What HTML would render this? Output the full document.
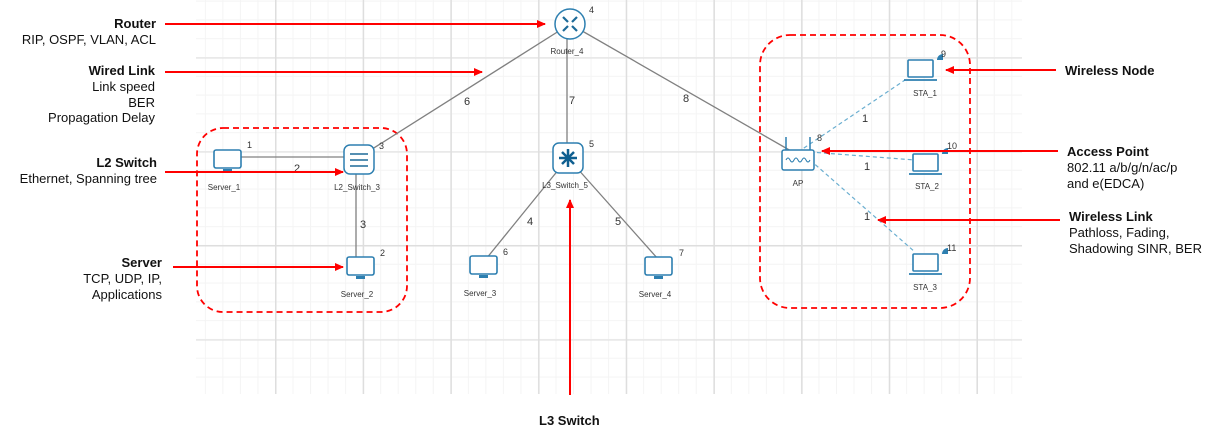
<!DOCTYPE html>
<html><head><meta charset="utf-8"><style>
html,body{margin:0;padding:0;background:#fff;}
body{width:1228px;height:436px;position:relative;overflow:hidden;font-family:"Liberation Sans",Arial,sans-serif;}
#grid{position:absolute;left:196px;top:0;width:826px;height:394px;
background-image:
linear-gradient(to right,#dedede 1.5px,transparent 1.5px),
linear-gradient(to bottom,#dedede 1.5px,transparent 1.5px),
linear-gradient(to right,#f4f4f4 1px,transparent 1px),
linear-gradient(to bottom,#f4f4f4 1px,transparent 1px);
background-size:87.7px 94px,87.7px 94px,17.54px 18.8px,17.54px 18.8px;
background-position:79px 57px,79px 57px,79px 57px,79px 57px;}
svg{position:absolute;left:0;top:0;}
</style></head><body>
<div id="grid"></div>
<svg width="1228" height="436" viewBox="0 0 1228 436" font-family="Liberation Sans, Arial, sans-serif">
<defs>
<marker id="ar" markerWidth="9" markerHeight="8" refX="8" refY="4" orient="auto" markerUnits="userSpaceOnUse"><path d="M0,0 L9,4 L0,8 z" fill="#f00"/></marker>
</defs>
<rect x="197" y="128" width="210" height="184" rx="26" fill="none" stroke="#f00" stroke-width="1.8" stroke-dasharray="6,4"/>
<rect x="760" y="35" width="210" height="273" rx="30" fill="none" stroke="#f00" stroke-width="1.8" stroke-dasharray="6,4"/>
<g stroke="#808080" stroke-width="1.3">
<line x1="570" y1="24" x2="358" y2="158"/>
<line x1="567" y1="24" x2="567" y2="158"/>
<line x1="570" y1="24" x2="798" y2="155"/>
<line x1="228" y1="157" x2="358" y2="157"/>
<line x1="356" y1="158" x2="356" y2="267"/>
<line x1="568" y1="158" x2="486" y2="259"/>
<line x1="568" y1="158" x2="658" y2="259"/>
</g>
<g stroke="#6aaed0" stroke-width="1.2" stroke-dasharray="4,3">
<line x1="798" y1="152" x2="905" y2="80"/>
<line x1="810" y1="152" x2="915" y2="160"/>
<line x1="810" y1="160" x2="915" y2="252"/>
</g>
<circle cx="570" cy="24" r="15" fill="#fff" stroke="#2d7fb0" stroke-width="1.5"/>
<g stroke="#1d6a98" stroke-width="2.2"><line x1="563" y1="17" x2="568" y2="22"/><line x1="577" y1="17" x2="572" y2="22"/><line x1="563" y1="31" x2="568" y2="26"/><line x1="577" y1="31" x2="572" y2="26"/></g>
<rect x="344" y="145" width="30" height="29" rx="6" fill="#fff" stroke="#2d7fb0" stroke-width="1.5"/>
<g stroke="#1d6a98" stroke-width="1.6"><line x1="350" y1="154" x2="368" y2="154"/><line x1="350" y1="160" x2="368" y2="160"/><line x1="350" y1="166" x2="368" y2="166"/></g>
<rect x="553" y="143" width="30" height="30" rx="6" fill="#fff" stroke="#2d7fb0" stroke-width="1.5"/>
<g stroke="#0f5f90" stroke-width="2.5"><line x1="568" y1="149" x2="568" y2="167"/><line x1="559" y1="158" x2="577" y2="158"/><line x1="562" y1="152" x2="574" y2="164"/><line x1="574" y1="152" x2="562" y2="164"/></g>
<g fill="#fff" stroke="#2d7fb0" stroke-width="1.6">
<rect x="214" y="150" width="27" height="18" rx="2"/>
<rect x="347" y="257" width="27" height="18" rx="2"/>
<rect x="470" y="256" width="27" height="18" rx="2"/>
<rect x="645" y="257" width="27" height="18" rx="2"/>
</g>
<g fill="#2d7fb0"><rect x="223" y="169" width="9" height="3"/><rect x="356" y="276" width="9" height="3"/><rect x="479" y="275" width="9" height="3"/><rect x="654" y="276" width="9" height="3"/></g>
<rect x="782" y="150" width="32" height="20" rx="2" fill="#fff" stroke="#2d7fb0" stroke-width="1.5"/>
<g stroke="#2d7fb0" stroke-width="1.5"><line x1="786" y1="137" x2="786" y2="150"/><line x1="810" y1="137" x2="810" y2="150"/></g>
<path d="M786,160 q2,-4 4,0 q2,4 4,0 q2,-4 4,0 q2,4 4,0 q2,-4 4,0 q2,4 4,0" fill="none" stroke="#2d7fb0" stroke-width="1"/>
<g fill="#fff" stroke="#2d7fb0" stroke-width="1.6">
<rect x="908" y="60" width="25" height="17" rx="1"/>
<rect x="913" y="154" width="25" height="17" rx="1"/>
<rect x="913" y="254" width="25" height="17" rx="1"/>
</g>
<g stroke="#2d7fb0" stroke-width="1.8" fill="none">
<path d="M904,80 h33"/><path d="M909,174 h33"/><path d="M909,274 h33"/>
</g>
<g fill="#2d7fb0"><path d="M937,60 a6,6 0 0 1 6,-6 v6z"/><path d="M942,154 a6,6 0 0 1 6,-6 v6z"/><path d="M942,254 a6,6 0 0 1 6,-6 v6z"/></g>
<g font-size="8" fill="#333" text-anchor="middle">
<text x="567" y="54">Router_4</text>
<text x="357" y="190">L2_Switch_3</text>
<text x="565" y="188">L3_Switch_5</text>
<text x="224" y="190">Server_1</text>
<text x="357" y="297">Server_2</text>
<text x="480" y="296">Server_3</text>
<text x="655" y="297">Server_4</text>
<text x="798" y="186">AP</text>
<text x="925" y="96">STA_1</text>
<text x="927" y="189">STA_2</text>
<text x="925" y="290">STA_3</text>
</g>
<g font-size="9" fill="#333">
<text x="589" y="13">4</text><text x="379" y="149">3</text><text x="589" y="147">5</text>
<text x="247" y="148">1</text><text x="380" y="256">2</text><text x="503" y="255">6</text><text x="679" y="256">7</text>
<text x="817" y="141">8</text><text x="941" y="57">9</text><text x="947" y="149">10</text><text x="947" y="251">11</text>
</g>
<g font-size="11" fill="#333">
<text x="464" y="105">6</text><text x="569" y="104">7</text><text x="683" y="102">8</text>
<text x="294" y="172">2</text><text x="360" y="228">3</text><text x="527" y="225">4</text><text x="615" y="225">5</text>
<text x="862" y="122">1</text><text x="864" y="170">1</text><text x="864" y="220">1</text>
</g>
<g stroke="#f00" stroke-width="2" marker-end="url(#ar)">
<line x1="165" y1="24" x2="545" y2="24"/>
<line x1="165" y1="72" x2="482" y2="72"/>
<line x1="165" y1="172" x2="343" y2="172"/>
<line x1="173" y1="267" x2="343" y2="267"/>
<line x1="570" y1="395" x2="570" y2="200"/>
<line x1="1056" y1="70" x2="946" y2="70"/>
<line x1="1058" y1="151" x2="822" y2="151"/>
<line x1="1060" y1="220" x2="878" y2="220"/>
</g>
<g font-size="13" fill="#111" text-anchor="end">
<text x="156" y="28" font-weight="bold">Router</text>
<text x="156" y="44">RIP, OSPF, VLAN, ACL</text>
<text x="155" y="75" font-weight="bold">Wired Link</text>
<text x="155" y="91">Link speed</text>
<text x="155" y="107">BER</text>
<text x="155" y="122">Propagation Delay</text>
<text x="157" y="167" font-weight="bold">L2 Switch</text>
<text x="157" y="183">Ethernet, Spanning tree</text>
<text x="162" y="267" font-weight="bold">Server</text>
<text x="162" y="283">TCP, UDP, IP,</text>
<text x="162" y="299">Applications</text>
</g>
<g font-size="13" fill="#111">
<text x="1065" y="75" font-weight="bold">Wireless Node</text>
<text x="1067" y="156" font-weight="bold">Access Point</text>
<text x="1067" y="172">802.11 a/b/g/n/ac/p</text>
<text x="1067" y="188">and e(EDCA)</text>
<text x="1069" y="221" font-weight="bold">Wireless Link</text>
<text x="1069" y="237">Pathloss, Fading,</text>
<text x="1069" y="253">Shadowing SINR, BER</text>
<text x="539" y="425" font-weight="bold">L3 Switch</text>
</g>
</svg>
</body></html>
